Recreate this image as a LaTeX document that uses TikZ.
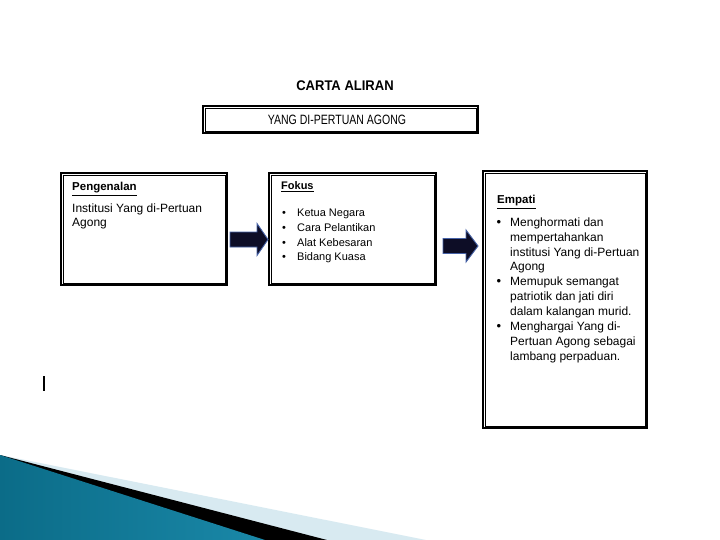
\documentclass[tikz,border=0pt]{standalone}
\usepackage{fontspec}
\setmainfont{Liberation Sans}
\newfontfamily\narrowfont[FakeStretch=0.78]{Liberation Sans}
\newfontfamily\titlefont[FakeStretch=0.93]{Liberation Sans}
\definecolor{arrowfill}{HTML}{0D0D26}
\definecolor{arrowline}{HTML}{4662A8}
\definecolor{tealdark}{HTML}{0B6C88}
\definecolor{teallight}{HTML}{5BBAD6}
\definecolor{tealmid}{HTML}{1A88A8}
\definecolor{paleband}{HTML}{D8EAF1}
\tikzset{
  outerbox/.style={draw=black, line width=2pt, fill=white, inner sep=0pt},
  innerline/.style={draw=black, line width=0.8pt},
  blockarrow/.style={fill=arrowfill, draw=arrowline, line width=0.9pt, line join=miter},
  boxtext/.style={anchor=base west, inner sep=0pt, font=\fontsize{11}{13}\selectfont},
  bigtext/.style={anchor=base west, inner sep=0pt, font=\fontsize{12}{14}\selectfont},
  bul/.style={anchor=base, inner sep=0pt, font=\fontsize{11}{13}\selectfont},
}
\begin{document}
\begin{tikzpicture}[x=1pt,y=-1pt]
\useasboundingbox (0,0) rectangle (720,540);
\fill[white] (0,0) rectangle (720,540);

% bottom decoration
\fill[paleband] (0,455) -- (426,540) -- (0,540) -- cycle;
\fill[black] (0,455) -- (327,540) -- (0,540) -- cycle;
\shade[left color=tealdark, middle color=teallight, right color=tealmid] (0,455) -- (265,540) -- (0,540) -- cycle;

% small stray line
\draw[line width=1.8pt] (44,376) -- (44,391);

% title
\node[anchor=base, inner sep=0pt, font=\titlefont\fontsize{14}{16}\selectfont\bfseries] (title) at (345,90.5) {CARTA ALIRAN};

% header box
\node[outerbox, minimum width=275pt, minimum height=27pt] (hdr) at (340.5,119.5) {};
\draw[innerline] ([shift={(3,3)}]hdr.north west) rectangle ([shift={(-3,-3)}]hdr.south east);
\node[anchor=base, inner sep=0pt, font=\narrowfont\fontsize{13.5}{15}\selectfont] (hdrtext) at (337,125) {YANG DI-PERTUAN AGONG};

% box 1
\node[outerbox, minimum width=166pt, minimum height=112pt] (b1) at (144,229) {};
\draw[innerline] ([shift={(3,3)}]b1.north west) rectangle ([shift={(-3,-3)}]b1.south east);
\node[boxtext, font=\fontsize{11.5}{13}\selectfont\bfseries] (b1head) at (72,191) {\underline{Pengenalan}};
\node[boxtext, font=\fontsize{12}{13}\selectfont] (b1l1) at (72,212.5) {Institusi Yang di-Pertuan};
\node[boxtext, font=\fontsize{12}{13}\selectfont] (b1l2) at (72,226) {Agong};

% box 2
\node[outerbox, minimum width=167pt, minimum height=112pt] (b2) at (352.5,229) {};
\draw[innerline] ([shift={(3,3)}]b2.north west) rectangle ([shift={(-3,-3)}]b2.south east);
\node[boxtext, font=\fontsize{11}{13}\selectfont\bfseries] (b2head) at (281,190) {\underline{Fokus}};
\foreach \yy/\tt [count=\i] in {217/Ketua Negara, 231.5/Cara Pelantikan, 246/Alat Kebesaran, 260.5/Bidang Kuasa}{
  \node[bul] (b2b\i) at (284,\yy) {•};
  \node[boxtext] (b2t\i) at (297,\yy) {\tt};
}

% box 3
\node[outerbox, minimum width=164pt, minimum height=257pt] (b3) at (565,299.5) {};
\draw[innerline] ([shift={(3,3)}]b3.north west) rectangle ([shift={(-3,-3)}]b3.south east);
\node[bigtext, font=\fontsize{11.5}{13}\selectfont\bfseries] (b3head) at (497,204) {\underline{Empati}};
\foreach \yy/\tt [count=\i] in {226/Menghormati dan, 241/mempertahankan, 256/institusi Yang di-Pertuan, 270.5/Agong, 285.5/Memupuk semangat, 300.5/patriotik dan jati diri, 315.5/dalam kalangan murid., 330.5/Menghargai Yang di-, 345.5/Pertuan Agong sebagai, 360.5/lambang perpaduan.}{
  \node[bigtext] (b3t\i) at (510,\yy) {\tt};
}
\node[bul, font=\fontsize{13}{14}\selectfont] (b3b1) at (499,226) {•};
\node[bul, font=\fontsize{13}{14}\selectfont] (b3b2) at (499,285.5) {•};
\node[bul, font=\fontsize{13}{14}\selectfont] (b3b3) at (499,330.5) {•};

% block arrows
\coordinate (a1) at (230,239.5);
\draw[blockarrow] (a1) ++(0,-7.5) -- ++(27,0) -- ++(0,-8.5) -- ++(11,16) -- ++(-11,16) -- ++(0,-8.5) -- ++(-27,0) -- cycle;
\coordinate (a2) at (443,246);
\draw[blockarrow] (a2) ++(0,-7.5) -- ++(23,0) -- ++(0,-8.5) -- ++(12,16) -- ++(-12,16) -- ++(0,-8.5) -- ++(-23,0) -- cycle;
\end{tikzpicture}
\end{document}
